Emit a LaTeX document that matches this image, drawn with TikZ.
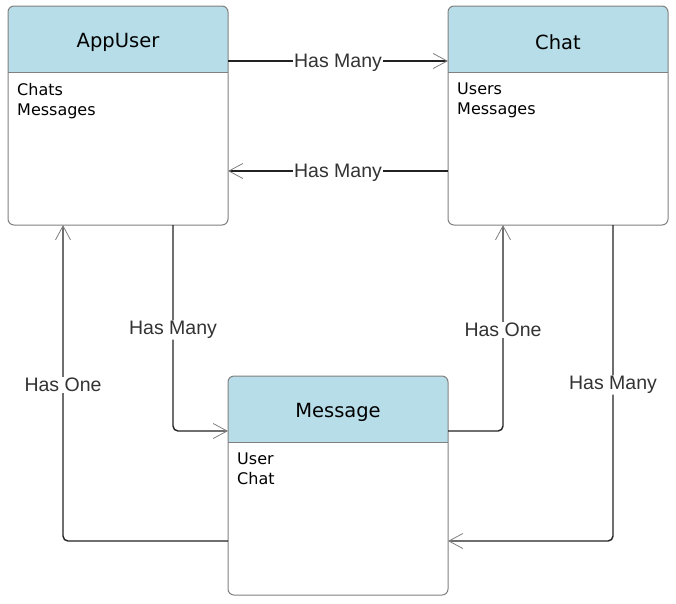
\documentclass[tikz,border=0pt]{standalone}
\usepackage{fontspec}
\setmainfont{DejaVu Sans}
\newfontfamily\labelfont{Liberation Sans}
\usepackage{tikz}
\usetikzlibrary{calc,arrows.meta}
\definecolor{headfill}{RGB}{183,221,232}
\definecolor{boxgray}{RGB}{128,128,128}
\definecolor{linegray}{RGB}{34,34,34}
\definecolor{labelgray}{RGB}{51,51,51}
\tikzset{
	entitybox/.style={rectangle, minimum width=220pt, minimum height=219pt, inner sep=0, outer sep=0},
	entityline/.style={draw=boxgray, line width=1pt},
	entitytitle/.style={font=\fontsize{19.5}{22}\selectfont},
	entityattr/.style={anchor=north west, inner sep=0, align=left, font=\fontsize{16}{20}\selectfont},
	rel/.style={draw=linegray, line width=1.4pt, rounded corners=5pt, -{Straight Barb[length=14pt,width=15pt,line width=0.8pt,color=boxgray]}},
	rellabel/.style={font=\labelfont\fontsize{19.5}{21}\selectfont, text=labelgray, fill=white, inner sep=1pt, yshift=-2pt}
}
\def\entity(#1)(#2,#3)(#4)(#5){
	\node[entitybox] (#1) at (#2,#3) {};
	\begin{scope}
		\clip[rounded corners=6pt] (#1.north west) rectangle (#1.south east);
		\fill[headfill] (#1.north west) rectangle ($(#1.north east)+(0,66)$);
	\end{scope}
	\draw[entityline] ($(#1.north west)+(0,66)$) -- ($(#1.north east)+(0,66)$);
	\draw[entityline, rounded corners=6pt] (#1.north west) rectangle (#1.south east);
	\node[entitytitle] (#1-title) at ($(#1.north)+(0,36)$) {#4};
	\node[entityattr] (#1-attrs) at ($(#1.north west)+(9,77)$) {#5};
}

\begin{document}
\begin{tikzpicture}[x=1pt, y=-1pt]
			%%%%% START %%%%%
			\useasboundingbox[fill=white] (0,0) rectangle (676,603);
			
			\entity(appuser)(118,115.5)(AppUser)(Chats\\Messages)
			\entity(chat)(558,115.5)(Chat)(Users\\Messages)
			\entity(message)(338,485.5)(Message)(User\\Chat)
			
			\draw[rel] ($(appuser.north east)+(0,55)$) -- node[rellabel] (l1) {Has Many} ($(chat.north west)+(0,55)$);
			\draw[rel] ($(chat.north west)+(0,165)$) -- node[rellabel] (l2) {Has Many} ($(appuser.north east)+(0,165)$);
			
			\draw[rel] ($(appuser.south west)+(165,0)$) |- node[rellabel, pos=0.25] (l3) {Has Many} ($(message.north west)+(0,55)$);
			\draw[rel] ($(message.north east)+(0,55)$) -| node[rellabel, pos=0.75] (l4) {Has One} ($(chat.south west)+(55,0)$);
			\draw[rel] ($(message.north west)+(0,165)$) -| node[rellabel, pos=0.75] (l5) {Has One} ($(appuser.south west)+(55,0)$);
			\draw[rel] ($(chat.south west)+(165,0)$) |- node[rellabel, pos=0.25] (l6) {Has Many} ($(message.north east)+(0,165)$);
			%%%%% END %%%%%
\end{tikzpicture}
\end{document}
